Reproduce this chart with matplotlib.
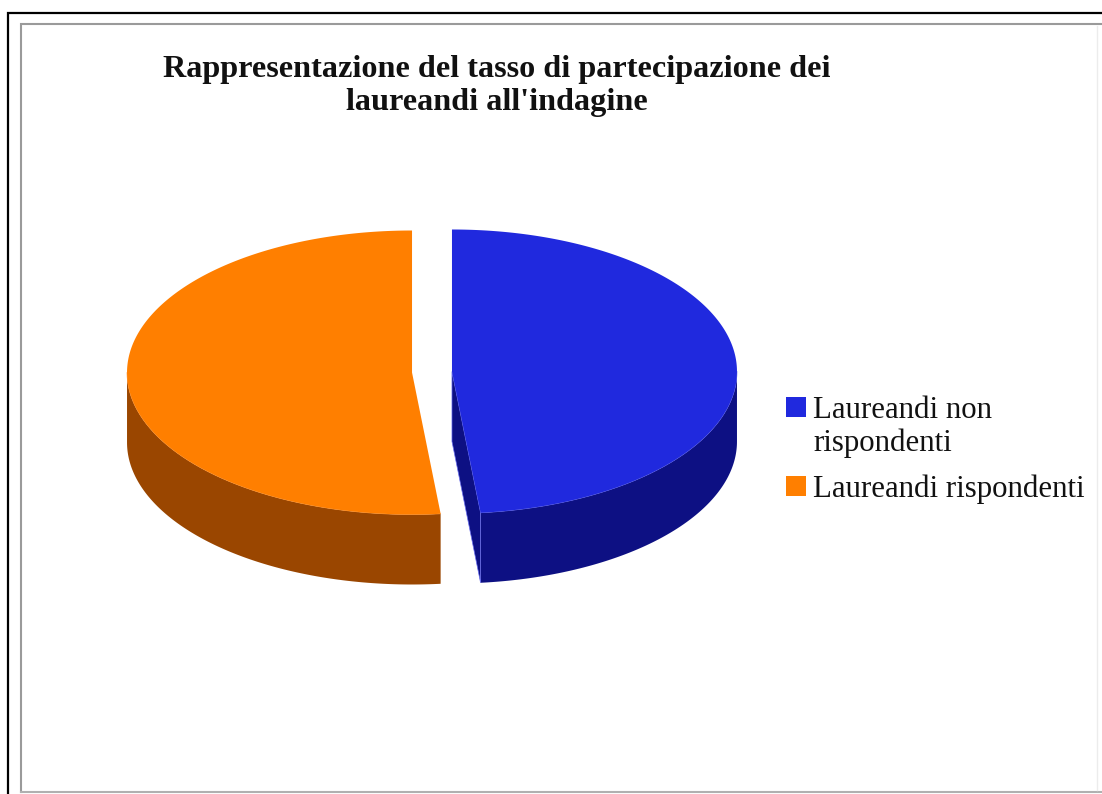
import textwrap
import numpy as np
import matplotlib
matplotlib.use("Agg")
import matplotlib.pyplot as plt
from matplotlib.patches import Polygon, Rectangle
from matplotlib.lines import Line2D

# Chart content
title_lines = ["Rappresentazione del tasso di partecipazione dei",
               "laureandi all'indagine"]
categories = ["Laureandi non rispondenti", "Laureandi rispondenti"]
shares = [48.4, 51.6]  # percent of graduating students
top_colors = ["#2029DE", "#FF7F00"]
side_colors = ["#0D1083", "#9A4600"]
edge_colors = ["#6A6FF0", "#FF9A40"]

W, H = 1102, 794
fig = plt.figure(figsize=(W / 100, H / 100), dpi=100)
ax = fig.add_axes([0, 0, 1, 1])
ax.set_xlim(0, W)
ax.set_ylim(H, 0)
ax.axis("off")

# Frame lines of the chart area
ax.add_line(Line2D([8, 8, W], [H, 13, 13], color="black", lw=1.6, solid_joinstyle="miter"))
ax.add_line(Line2D([21, 21, W], [792, 24, 24], color="#9a9a9a", lw=1.5, solid_joinstyle="miter"))
ax.add_line(Line2D([21, W], [792, 792], color="#b0b0b0", lw=1.5))
ax.add_line(Line2D([1097, 1097], [26, 790], color="#ececec", lw=1.0))

# 3-D pie geometry (screen units, angles clockwise from 12 o'clock)
cx, cy = 432, 372
rx, ry = 285, 142
depth = 70
explode = 20


def rim(c, angles, dy=0.0):
    t = np.radians(angles)
    return np.column_stack([c[0] + rx * np.sin(t), c[1] - ry * np.cos(t) + dy])


fractions = np.asarray(shares) / np.sum(shares)
edges = np.concatenate([[0.0], np.cumsum(fractions) * 360.0])

slices = []
for i in range(len(shares)):
    a0, a1 = edges[i], edges[i + 1]
    mid = np.radians((a0 + a1) / 2)
    c = (cx + explode * np.sin(mid), cy - explode * (ry / rx) * np.cos(mid))
    slices.append((a0, a1, c))

# side walls and cut faces first
for i, (a0, a1, c) in enumerate(slices):
    lo, hi = max(a0, 90.0), min(a1, 270.0)
    if lo < hi:
        ang = np.linspace(lo, hi, 200)
        pts = np.vstack([rim(c, ang), rim(c, ang[::-1], depth)])
        ax.add_patch(Polygon(pts, closed=True, facecolor=side_colors[i],
                             edgecolor="none", zorder=2))
    for a, visible in ((a1, np.sin(np.radians(a1)) > 1e-6),
                       (a0, np.sin(np.radians(a0)) < -1e-6)):
        if visible:
            p_top = rim(c, [a])[0]
            pts = [c, p_top, (p_top[0], p_top[1] + depth), (c[0], c[1] + depth)]
            ax.add_patch(Polygon(pts, closed=True, facecolor=side_colors[i],
                                 edgecolor=edge_colors[i], lw=0.5, zorder=2))
    if lo < hi:
        ang = np.linspace(lo, hi, 200)
        ax.plot(*rim(c, ang).T, color=edge_colors[i], lw=0.5, zorder=2.5)

# top faces
for i, (a0, a1, c) in enumerate(slices):
    ang = np.linspace(a0, a1, 400)
    pts = np.vstack([[c], rim(c, ang)])
    ax.add_patch(Polygon(pts, closed=True, facecolor=top_colors[i],
                         edgecolor="none", zorder=3))

# Title
serif = ["Liberation Serif", "DejaVu Serif"]
for k, line in enumerate(title_lines):
    ax.text(497, 77 + 33 * k, line, ha="center", va="baseline",
            fontsize=23.2, fontweight="bold", family=serif, color="#111111")

# Legend
leg_x, sq = 786, 20
baseline = 418
for i, label in enumerate(categories):
    lines = textwrap.wrap(label, 21)
    ax.add_patch(Rectangle((leg_x, baseline - 21), sq, sq,
                           facecolor=top_colors[i], edgecolor="none"))
    for j, ln in enumerate(lines):
        ax.text(leg_x + 27, baseline + 33 * j, ln, ha="left", va="baseline",
                fontsize=22.2, family=serif, color="#111111")
    baseline += 33 * (len(lines) - 1) + 46

fig.savefig("out.png", dpi=100, facecolor="white")
